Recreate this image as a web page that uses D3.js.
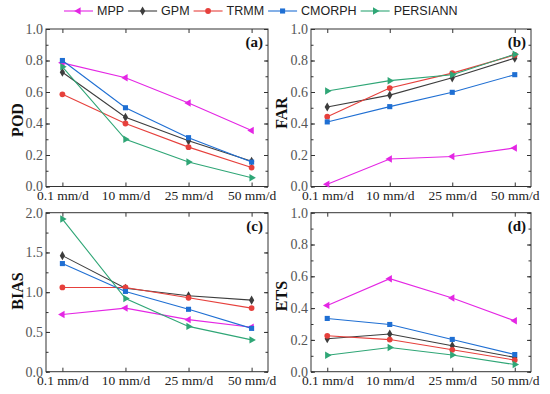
<!DOCTYPE html>
<html>
<head>
<meta charset="utf-8">
<script src="https://cdn.jsdelivr.net/npm/d3@7"></script>
<style>
  body { margin: 0; background: white; }
  svg { display: block; }
</style>
</head>
<body>
<div id="chart"></div>
<script>
var w = 550, h = 394;

// data
var categories = ["0.1 mm/d", "10 mm/d", "25 mm/d", "50 mm/d"];
var products = ["MPP", "GPM", "TRMM", "CMORPH", "PERSIANN"];
var colors = ["#e426e4", "#3d3d3d", "#e6403c", "#1f6fd3", "#2fa676"];

var podMPP = [0.785, 0.69, 0.53, 0.355];
var podGPM = [0.725, 0.44, 0.29, 0.16];
var podTRMM = [0.585, 0.40, 0.25, 0.12];
var podCMORPH = [0.80, 0.50, 0.31, 0.155];
var podPERSIANN = [0.76, 0.30, 0.155, 0.055];

var farMPP = [0.015, 0.175, 0.19, 0.245];
var farGPM = [0.505, 0.58, 0.69, 0.815];
var farTRMM = [0.443, 0.625, 0.72, 0.835];
var farCMORPH = [0.41, 0.507, 0.598, 0.71];
var farPERSIANN = [0.606, 0.672, 0.71, 0.84];

var biasMPP = [0.72, 0.80, 0.655, 0.56];
var biasGPM = [1.46, 1.05, 0.956, 0.90];
var biasTRMM = [1.06, 1.06, 0.93, 0.80];
var biasCMORPH = [1.36, 1.01, 0.785, 0.545];
var biasPERSIANN = [1.92, 0.92, 0.57, 0.40];

var etsMPP = [0.417, 0.585, 0.463, 0.32];
var etsGPM = [0.207, 0.237, 0.163, 0.09];
var etsTRMM = [0.226, 0.202, 0.138, 0.073];
var etsCMORPH = [0.335, 0.297, 0.203, 0.108];
var etsPERSIANN = [0.103, 0.152, 0.105, 0.045];

var yTicks01 = [0, 0.2, 0.4, 0.6, 0.8, 1.0];
var yTicksBias = [0, 0.5, 1.0, 1.5, 2.0];

var panels = [
  {name: "POD", tag: "(a)", x0: 46, x1: 268, y0: 29, y1: 186.5, max: 1, ticks: yTicks01, minor: 0.1,
   series: [podMPP, podGPM, podTRMM, podCMORPH, podPERSIANN], tx: 17, ty: 120},
  {name: "FAR", tag: "(b)", x0: 311, x1: 531, y0: 29, y1: 186.5, max: 1, ticks: yTicks01, minor: 0.1,
   series: [farMPP, farGPM, farTRMM, farCMORPH, farPERSIANN], tx: 281, ty: 113},
  {name: "BIAS", tag: "(c)", x0: 46, x1: 268, y0: 212.7, y1: 371.7, max: 2, ticks: yTicksBias, minor: 0.25,
   series: [biasMPP, biasGPM, biasTRMM, biasCMORPH, biasPERSIANN], tx: 17, ty: 291},
  {name: "ETS", tag: "(d)", x0: 311, x1: 531, y0: 212.7, y1: 371.7, max: 1, ticks: yTicks01, minor: 0.1,
   series: [etsMPP, etsGPM, etsTRMM, etsCMORPH, etsPERSIANN], tx: 281, ty: 296}
];

// markers
function markerPath(i) {
  var sym = [d3.symbolTriangle, d3.symbolDiamond, d3.symbolCircle, d3.symbolSquare, d3.symbolTriangle][i];
  var size = [24, 24, 26, 26, 24][i];
  return d3.symbol().type(sym).size(size)();
}
var markerRot = [-90, 0, 0, 0, 90];

var svg = d3.select("#chart").append("svg")
  .attr("width", w)
  .attr("height", h)
  .style("background", "white");

var serif = "'Liberation Serif', 'Times New Roman', serif";

panels.forEach(function(p) {
  var x = d3.scalePoint().domain(categories).range([p.x0, p.x1]).padding(0.26);
  var y = d3.scaleLinear().domain([0, p.max]).range([p.y1, p.y0]);
  var g = svg.append("g");
  var minorTicks = d3.range(0, p.max + 1e-9, p.minor);

  // left / right ticks (inward)
  var left = g.append("g").attr("transform", "translate(" + p.x0 + ",0)")
    .call(d3.axisLeft(y).tickValues(p.ticks).tickSize(-4).tickPadding(3).tickFormat(d3.format(".1f")));
  left.selectAll("text").style("font-family", serif).style("font-size", "14px").attr("fill", "#555");
  g.append("g").attr("transform", "translate(" + p.x0 + ",0)")
    .call(d3.axisLeft(y).tickValues(minorTicks).tickSize(-2.5).tickFormat(""));
  g.append("g").attr("transform", "translate(" + p.x1 + ",0)")
    .call(d3.axisRight(y).tickValues(p.ticks).tickSize(-4).tickFormat(""));
  g.append("g").attr("transform", "translate(" + p.x1 + ",0)")
    .call(d3.axisRight(y).tickValues(minorTicks).tickSize(-2.5).tickFormat(""));

  // bottom / top ticks (inward)
  var bottom = g.append("g").attr("transform", "translate(0," + p.y1 + ")")
    .call(d3.axisBottom(x).tickSize(-4).tickPadding(4));
  bottom.selectAll("text").style("font-family", serif).style("font-size", "13.5px").attr("fill", "#222")
    .attr("dy", "0.71em");
  g.append("g").attr("transform", "translate(0," + p.y0 + ")")
    .call(d3.axisTop(x).tickSize(-4).tickFormat(""));

  g.selectAll(".domain").remove();
  g.selectAll(".tick line").attr("stroke", "#333");

  g.append("rect")
    .attr("x", p.x0).attr("y", p.y0)
    .attr("width", p.x1 - p.x0).attr("height", p.y1 - p.y0)
    .attr("fill", "none").attr("stroke", "#333").attr("stroke-width", 1);

  var line = d3.line().x(function(d, i) { return x(categories[i]); }).y(function(d) { return y(d); });

  p.series.forEach(function(vals, si) {
    g.append("path").datum(vals)
      .attr("d", line)
      .attr("fill", "none")
      .attr("stroke", colors[si])
      .attr("stroke-width", 1.1);
    g.selectAll(".m" + si).data(vals).enter().append("path")
      .attr("d", markerPath(si))
      .attr("transform", function(d, i) {
        return "translate(" + x(categories[i]) + "," + y(d) + ") rotate(" + markerRot[si] + ")";
      })
      .attr("fill", colors[si]);
  });

  g.append("text")
    .attr("x", p.x1 - 5).attr("y", p.y0 + 18)
    .attr("text-anchor", "end")
    .style("font-family", serif).style("font-size", "15px").style("font-weight", "bold")
    .attr("fill", "#111")
    .text(p.tag);

  g.append("text")
    .attr("transform", "translate(" + p.tx + "," + p.ty + ") rotate(-90)")
    .attr("text-anchor", "middle")
    .attr("dy", "0.35em")
    .style("font-family", serif).style("font-size", "16px").style("font-weight", "bold")
    .attr("fill", "#111")
    .text(p.name);
});

// legend
var legend = svg.append("g").attr("transform", "translate(64,11)");
var lx = 0;
products.forEach(function(name, i) {
  var item = legend.append("g").attr("transform", "translate(" + lx + ",0)");
  item.append("line").attr("x1", 0).attr("x2", 29).attr("y1", 0).attr("y2", 0)
    .attr("stroke", colors[i]).attr("stroke-width", 1.1);
  item.append("path").attr("d", markerPath(i))
    .attr("transform", "translate(14.5,0) rotate(" + markerRot[i] + ")")
    .attr("fill", colors[i]);
  var t = item.append("text").attr("x", 33).attr("dy", "0.35em")
    .style("font-family", "'Liberation Sans', Arial, sans-serif").style("font-size", "12.5px")
    .attr("fill", "#222")
    .text(name);
  lx += 33 + t.node().getComputedTextLength() + 4;
});
</script>
</body>
</html>
